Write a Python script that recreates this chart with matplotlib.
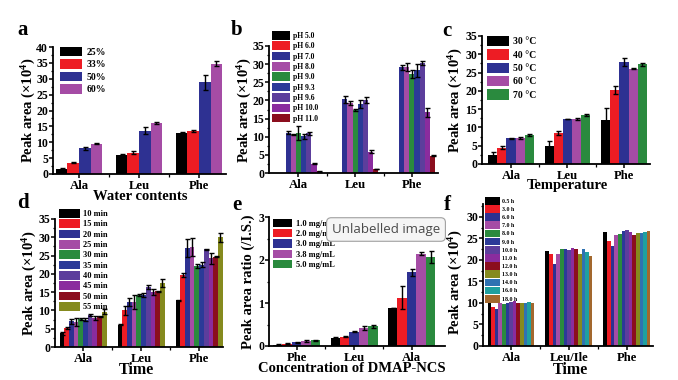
import matplotlib
matplotlib.use("Agg")
import matplotlib.pyplot as plt
import numpy as np
from matplotlib.ticker import MultipleLocator, FixedLocator

plt.rcParams['font.family'] = ['Liberation Serif', 'DejaVu Serif']
plt.rcParams['font.weight'] = 'bold'
plt.rcParams['mathtext.fontset'] = 'custom'
plt.rcParams['mathtext.rm'] = 'Liberation Serif:bold'
plt.rcParams['mathtext.bf'] = 'Liberation Serif:bold'
plt.rcParams['mathtext.it'] = 'Liberation Serif:bold'

W, H = 678, 380

# ---------------- data ----------------
amino3 = ["Ala", "Leu", "Phe"]

# panel a: water contents
a_labels = ["25%", "33%", "50%", "60%"]
a_vals = [[1.6, 6.0, 13.0], [3.6, 6.7, 13.5], [8.1, 13.7, 28.9], [9.5, 16.1, 34.7]]
a_errs = [[0.4, 0.2, 0.2], [0.2, 0.5, 0.4], [0.5, 1.0, 2.3], [0.2, 0.2, 0.8]]

# panel b: pH
b_labels = ["pH 5.0", "pH 6.0", "pH 7.0", "pH 8.0", "pH 9.0", "pH 9.3", "pH 9.6", "pH 10.0", "pH 11.0"]
b_vals = [[0, 0, 0], [0, 0, 0], [11.1, 20.3, 29.1], [10.6, 19.3, 29.2], [11.0, 17.4, 27.3],
          [10.1, 19.0, 28.3], [10.9, 20.2, 30.3], [2.6, 5.9, 16.7], [0.5, 1.1, 4.8]]
b_errs = [[0, 0, 0], [0, 0, 0], [0.4, 0.9, 0.7], [0.2, 0.5, 1.0], [2.0, 0.2, 1.1],
          [0.6, 1.1, 1.8], [0.5, 0.8, 0.5], [0.2, 0.5, 1.2], [0.1, 0.1, 0.1]]

# panel c: temperature
c_labels = ["30 \u00b0C", "40 \u00b0C", "50 \u00b0C", "60 \u00b0C", "70 \u00b0C"]
c_vals = [[2.5, 4.9, 12.0], [4.5, 8.4, 20.2], [7.0, 12.3, 27.9], [7.1, 12.3, 26.1], [7.9, 13.3, 27.3]]
c_errs = [[0.8, 1.3, 3.2], [0.3, 0.5, 1.1], [0.2, 0.1, 1.0], [0.2, 0.2, 0.1], [0.2, 0.3, 0.4]]

# panel d: reaction time (min)
d_labels = ["10 min", "15 min", "20 min", "25 min", "30 min", "35 min", "40 min", "45 min", "50 min", "55 min"]
d_vals = [[3.7, 6.1, 12.8], [5.2, 10.0, 19.7], [7.0, 12.3, 27.0], [6.8, 12.3, 27.4], [7.6, 14.3, 22.2],
          [7.5, 14.3, 22.5], [8.8, 16.4, 26.7], [8.0, 15.0, 24.3], [8.4, 15.2, 24.7], [9.7, 17.5, 30.0]]
d_errs = [[0.3, 0.1, 0.1], [0.2, 1.3, 0.6], [0.7, 1.0, 2.5], [1.1, 1.8, 2.5], [0.2, 0.3, 0.5],
          [0.3, 0.6, 0.7], [0.2, 0.5, 0.2], [0.6, 0.9, 1.5], [0.2, 0.2, 0.1], [0.7, 1.0, 1.2]]

# panel e: DMAP-NCS concentration
e_cats = ["Phe", "Leu", "Ala"]
e_labels = ["1.0 mg/mL", "2.0 mg/mL", "3.0 mg/mL", "3.8 mg/mL", "5.0 mg/mL"]
e_vals = [[0.03, 0.18, 0.88], [0.05, 0.22, 1.12], [0.09, 0.33, 1.71], [0.11, 0.42, 2.15], [0.13, 0.46, 2.07]]
e_errs = [[0.01, 0.02, 0.0], [0.01, 0.01, 0.27], [0.01, 0.01, 0.08], [0.02, 0.05, 0.03], [0.01, 0.04, 0.13]]

# panel f: stability over time (h)
f_cats = ["Ala", "Leu/Ile", "Phe"]
f_labels = ["0.5 h", "3.0 h", "6.0 h", "7.0 h", "8.0 h", "9.0 h", "10.0 h", "11.0 h", "12.0 h",
            "13.0 h", "14.0 h", "16.0 h", "18.0 h"]
f_vals = [[10.0, 22.0, 26.4], [9.1, 21.4, 24.3], [8.7, 19.0, 23.3], [9.9, 21.4, 25.9], [9.7, 22.6, 26.1],
          [9.9, 22.5, 26.7], [10.3, 22.3, 27.0], [10.4, 22.8, 26.6], [10.1, 22.6, 25.9], [10.0, 21.4, 26.3],
          [10.0, 22.6, 26.3], [10.2, 21.9, 26.6], [10.0, 21.0, 26.8]]

# ---------------- colours ----------------
BLK, RED, BLU, MAG, GRN = "#000000", "#ED1C24", "#2E3192", "#A54CA5", "#2A8A3E"
BLU2, PUR, VIO, DRED = "#2B3A98", "#5C3E9C", "#8A2C9E", "#8B0E1E"
OLV, STB, TEAL, BRN = "#858A1E", "#2F72B2", "#1FA0A0", "#A3682E"

a_cols = [BLK, RED, BLU, MAG]
b_cols = [BLK, RED, BLU, MAG, GRN, BLU2, PUR, VIO, DRED]
c_cols = [BLK, RED, BLU, MAG, GRN]
d_cols = [BLK, RED, BLU, MAG, GRN, BLU2, PUR, VIO, DRED, OLV]
e_cols = [BLK, RED, BLU, MAG, GRN]
f_cols = [BLK, RED, BLU, MAG, GRN, BLU2, PUR, VIO, DRED, OLV, STB, TEAL, BRN]

fig = plt.figure(figsize=(W / 100, H / 100), dpi=100)


def px(x, y):
    return x / W, 1 - y / H


def make_ax(l, r, t, b):
    return fig.add_axes([l / W, 1 - b / H, (r - l) / W, (b - t) / H])


def style(ax, cats, xlim, ylim, ymaj, ymin):
    for s in ("top", "right"):
        ax.spines[s].set_visible(False)
    for s in ("left", "bottom"):
        ax.spines[s].set_linewidth(1.3)
    ax.set_xlim(*xlim)
    ax.set_ylim(*ylim)
    ax.set_xticks([1, 2, 3])
    ax.set_xticklabels(cats, fontsize=9.2, fontweight="bold")
    ax.xaxis.set_minor_locator(FixedLocator([1.5, 2.5]))
    ax.yaxis.set_major_locator(MultipleLocator(ymaj))
    ax.yaxis.set_minor_locator(MultipleLocator(ymin))
    ax.tick_params(axis="both", which="major", direction="out", length=3, width=1.1, pad=1)
    ax.tick_params(axis="both", which="minor", direction="out", length=1.8, width=0.9)
    ax.tick_params(axis="y", labelsize=8.5, pad=0.5)
    for lab in ax.get_yticklabels():
        lab.set_fontweight("bold")


def bars(ax, vals, errs, cols, labels, frac):
    n = len(vals)
    w = frac / n
    x = np.arange(1, 4)
    handles = []
    for i in range(n):
        pos = x - frac / 2 + w * (i + 0.5)
        bc = ax.bar(pos, vals[i], width=w, color=cols[i], label=labels[i], zorder=2)
        if errs is not None:
            e = np.array(errs[i], dtype=float)
            v = np.array(vals[i], dtype=float)
            mask = v > 0
            if mask.any():
                ax.errorbar(pos[mask], v[mask], yerr=e[mask], fmt="none", ecolor="black",
                            elinewidth=1.0, capsize=1.8, capthick=1.0, zorder=3)
        handles.append(bc)
    return handles


def legend(ax, handles, labels, x, y, fs, hl, hh, ls):
    leg = ax.legend(handles, labels, loc="upper left", bbox_to_anchor=px(x, y),
                    bbox_transform=fig.transFigure, frameon=False,
                    handlelength=hl, handleheight=hh, labelspacing=ls, handletextpad=0.4,
                    borderpad=0, borderaxespad=0, prop={"weight": "bold", "size": fs})
    return leg


YLAB = "Peak area (\u00d7$10^{4}$)"
YFS = 10.5

# ---------- a ----------
ax = make_ax(53, 226, 47, 174)
h = bars(ax, a_vals, a_errs, a_cols, a_labels, 0.77)
style(ax, amino3, (0.567, 3.45), (0, 40), 5, 2.5)
legend(ax, h, a_labels, 60, 47, 7, 2.3, 1.1, 0.25)
fig.text(*px(29, 110), YLAB, rotation=90, ha="center", va="center", fontsize=YFS, fontweight="bold")
fig.text(*px(140, 197), "Water contents", ha="center", va="center", fontsize=10.5, fontweight="bold")
fig.text(*px(23, 30), "a", ha="center", va="center", fontsize=15, fontweight="bold")

# ---------- b ----------
ax = make_ax(269, 438, 46, 173)
h = bars(ax, b_vals, b_errs, b_cols, b_labels, 0.82)
style(ax, amino3, (0.48, 3.46), (0, 35), 5, 2.5)
legend(ax, h, b_labels, 272, 31, 5.5, 2.4, 1.35, 0.2)
fig.text(*px(244.5, 110), YLAB, rotation=90, ha="center", va="center", fontsize=YFS, fontweight="bold")
fig.text(*px(237, 30), "b", ha="center", va="center", fontsize=15, fontweight="bold")

# ---------- c ----------
ax = make_ax(482, 650, 36, 164)
h = bars(ax, c_vals, c_errs, c_cols, c_labels, 0.81)
style(ax, amino3, (0.487, 3.46), (0, 35), 5, 2.5)
legend(ax, h, c_labels, 487, 36, 7, 2.3, 1.25, 0.3)
fig.text(*px(456, 100), YLAB, rotation=90, ha="center", va="center", fontsize=YFS, fontweight="bold")
fig.text(*px(567, 185), "Temperature", ha="center", va="center", fontsize=10.5, fontweight="bold")
fig.text(*px(447, 31), "c", ha="center", va="center", fontsize=15, fontweight="bold")

# ---------- d ----------
ax = make_ax(55, 223, 219, 347)
h = bars(ax, d_vals, d_errs, d_cols, d_labels, 0.81)
style(ax, amino3, (0.517, 3.41), (0, 35), 5, 2.5)
legend(ax, h, d_labels, 59, 209, 6, 2.5, 1.2, 0.15)
fig.text(*px(30, 283), YLAB, rotation=90, ha="center", va="center", fontsize=YFS, fontweight="bold")
fig.text(*px(136, 369.5), "Time", ha="center", va="center", fontsize=11.5, fontweight="bold")
fig.text(*px(23, 203), "d", ha="center", va="center", fontsize=15, fontweight="bold")

# ---------- e ----------
ax = make_ax(269, 445, 217, 346)
h = bars(ax, e_vals, e_errs, e_cols, e_labels, 0.82)
style(ax, e_cats, (0.52, 3.58), (0, 3), 1, 0.5)
legend(ax, h, e_labels, 273, 219, 6, 2.3, 1.15, 0.15)
fig.text(*px(248, 282), "Peak area ratio (/I.S.)", rotation=90, ha="center", va="center",
         fontsize=YFS, fontweight="bold")
fig.text(*px(352, 368), "Concentration of DMAP-NCS", ha="center", va="center", fontsize=10.5,
         fontweight="bold")
fig.text(*px(237, 205), "e", ha="center", va="center", fontsize=15, fontweight="bold")

# ---------- f ----------
ax = make_ax(483, 653, 204, 346)
h = bars(ax, f_vals, None, f_cols, f_labels, 0.81)
style(ax, f_cats, (0.517, 3.45), (0, 33), 5, 2.5)
ax.yaxis.set_major_locator(FixedLocator([0, 5, 10, 15, 20, 25, 30]))
legend(ax, h, f_labels, 485, 197, 4.2, 2.6, 1.65, 0.08)
fig.text(*px(456, 282), YLAB, rotation=90, ha="center", va="center", fontsize=YFS, fontweight="bold")
fig.text(*px(570, 369.5), "Time", ha="center", va="center", fontsize=11.5, fontweight="bold")
fig.text(*px(447, 205), "f", ha="center", va="center", fontsize=15, fontweight="bold")

# tooltip overlay present in the reference
fig.text(*px(386, 229.5), "Unlabelled image", ha="center", va="center", fontsize=9.5,
         family="Open Sans", fontweight="normal", color="#4a4a4a",
         bbox=dict(boxstyle="round,pad=0.4,rounding_size=0.35", fc="#f5f5f5", ec="#a0a0a0", lw=0.8),
         zorder=10)

fig.savefig("out.png", dpi=100)
